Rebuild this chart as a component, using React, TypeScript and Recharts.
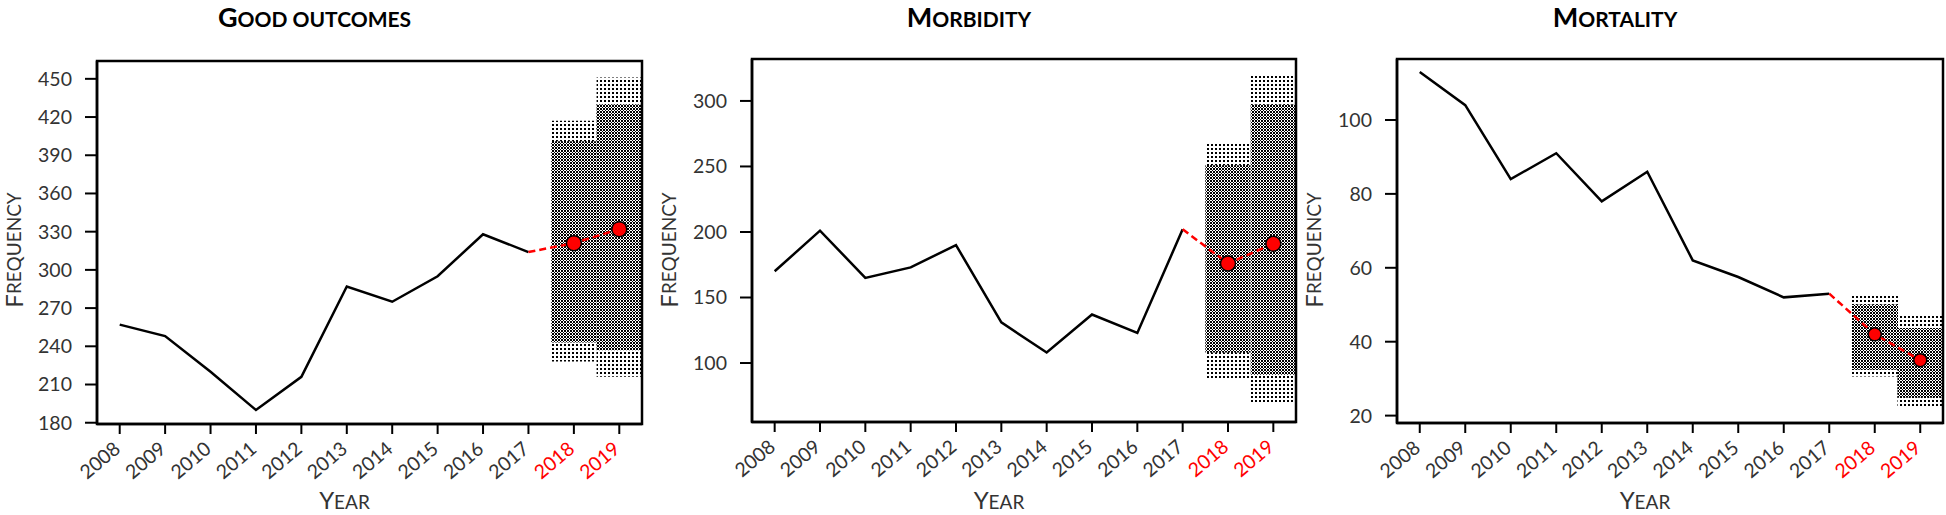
import React from "react";
import { Bar, ComposedChart, Line, XAxis, YAxis } from "recharts";

const YEARS = ["2008", "2009", "2010", "2011", "2012", "2013", "2014", "2015", "2016", "2017", "2018", "2019"];
const FORECAST_YEARS = ["2018", "2019"];

// good outcomes
const goodObserved = [257, 248, 220, 190, 216, 287, 275, 295, 328, 314, null, null];
const goodForecast = [null, null, null, null, null, null, null, null, null, 314, 321, 332];
const goodLow80 = [null, null, null, null, null, null, null, null, null, null, 243, 237];
const goodHigh80 = [null, null, null, null, null, null, null, null, null, null, 401, 430];
const goodLow95 = [null, null, null, null, null, null, null, null, null, null, 228, 216];
const goodHigh95 = [null, null, null, null, null, null, null, null, null, null, 417, 451];
const goodTicks = [180, 210, 240, 270, 300, 330, 360, 390, 420, 450];

// morbidity
const morbObserved = [170, 201, 165, 173, 190, 131, 108, 137, 123, 202, null, null];
const morbForecast = [null, null, null, null, null, null, null, null, null, 202, 176, 191];
const morbLow80 = [null, null, null, null, null, null, null, null, null, null, 108, 91];
const morbHigh80 = [null, null, null, null, null, null, null, null, null, null, 251, 297];
const morbLow95 = [null, null, null, null, null, null, null, null, null, null, 88, 69];
const morbHigh95 = [null, null, null, null, null, null, null, null, null, null, 268, 320];
const morbTicks = [100, 150, 200, 250, 300];

// mortality
const mortObserved = [113, 104, 84, 91, 78, 86, 62, 57.5, 52, 53, null, null];
const mortForecast = [null, null, null, null, null, null, null, null, null, 53, 42, 35];
const mortLow80 = [null, null, null, null, null, null, null, null, null, null, 32.4, 24.8];
const mortHigh80 = [null, null, null, null, null, null, null, null, null, null, 50, 43.7];
const mortLow95 = [null, null, null, null, null, null, null, null, null, null, 30.6, 22.5];
const mortHigh95 = [null, null, null, null, null, null, null, null, null, null, 52.9, 47];
const mortTicks = [20, 40, 60, 80, 100];

const FONT = "Lato, 'Open Sans', sans-serif";
const H = 515;
const AXIS_W = 97;

const panels = [
  {
    id: "good", title: "Good outcomes",
    observed: goodObserved, forecast: goodForecast,
    low80: goodLow80, high80: goodHigh80, low95: goodLow95, high95: goodHigh95,
    ticks: goodTicks, domain: [179, 464],
    plotLeft: 97, plotRight: 642, plotTop: 61, plotBottom: 424, dotR: 7.5,
  },
  {
    id: "morb", title: "Morbidity",
    observed: morbObserved, forecast: morbForecast,
    low80: morbLow80, high80: morbHigh80, low95: morbLow95, high95: morbHigh95,
    ticks: morbTicks, domain: [55, 332],
    plotLeft: 752, plotRight: 1296, plotTop: 59, plotBottom: 422, dotR: 7.5,
  },
  {
    id: "mort", title: "Mortality",
    observed: mortObserved, forecast: mortForecast,
    low80: mortLow80, high80: mortHigh80, low95: mortLow95, high95: mortHigh95,
    ticks: mortTicks, domain: [18, 116.5],
    plotLeft: 1397, plotRight: 1943, plotTop: 59, plotBottom: 423, dotR: 6.5,
  },
];

// upper case letters big, lower case as small capitals
function SmallCaps({ text, big, small }: { text: string; big: number; small: number }) {
  const runs: { s: string; up: boolean }[] = [];
  for (const ch of text) {
    const up = ch !== " " && ch === ch.toUpperCase();
    const last = runs[runs.length - 1];
    if (last && last.up === up) last.s += ch;
    else runs.push({ s: ch, up });
  }
  return (
    <>
      {runs.map((r, i) => (
        <tspan key={i} fontSize={r.up ? big : small}>
          {r.s.toUpperCase()}
        </tspan>
      ))}
    </>
  );
}

const YearTick = (props: any) => {
  const { x, y, payload } = props;
  const red = FORECAST_YEARS.includes(payload.value);
  return (
    <g transform={`translate(${x + 2},${y + 17})`}>
      <text
        x={0}
        y={0}
        textAnchor="end"
        transform="rotate(-40)"
        fontSize={19.5}
        fontFamily={FONT}
        fill={red ? "#ff0000" : "#333"}
      >
        {payload.value}
      </text>
    </g>
  );
};

function Panel({ p }: { p: (typeof panels)[number] }) {
  const plotW = p.plotRight - p.plotLeft;
  const plotH = p.plotBottom - p.plotTop;
  const width = plotW + AXIS_W + 3;
  const left = p.plotLeft - AXIS_W;
  const xH = 60;

  const data = YEARS.map((year, i) => ({
    year,
    observed: p.observed[i],
    forecast: p.forecast[i],
    ci80: p.low80[i] != null ? [p.low80[i], p.high80[i]] : null,
    ci95: p.low95[i] != null ? [p.low95[i], p.high95[i]] : null,
  }));

  const renderDot = (props: any) => {
    const { cx, cy, index } = props;
    if (index < 10 || cx == null || cy == null) return <g key={`d-${index}`} />;
    return <circle key={`d-${index}`} cx={cx} cy={cy} r={p.dotR} fill="#ff0000" stroke="#000" strokeWidth={1.5} />;
  };

  return (
    <div style={{ position: "absolute", left, top: 0, width, height: H }}>
      <ComposedChart
        width={width}
        height={H}
        data={data}
        margin={{ top: p.plotTop, right: 3, left: 0, bottom: H - p.plotBottom - xH }}
        barCategoryGap={0}
        barGap={0}
      >
        <defs>
          <pattern id={`light-${p.id}`} width={4} height={4} patternUnits="userSpaceOnUse">
            <rect width={4} height={4} fill="#fff" />
            <rect width={2} height={2} fill="#000" />
          </pattern>
          <pattern id={`dark-${p.id}`} width={3} height={3} patternUnits="userSpaceOnUse">
            <rect width={3} height={3} fill="#fff" />
            <rect width={2} height={2} fill="#000" />
            <rect x={2} y={2} width={1} height={1} fill="#000" />
          </pattern>
        </defs>
        <XAxis
          xAxisId="main"
          dataKey="year"
          interval={0}
          height={xH}
          tick={<YearTick />}
          tickSize={10}
          tickMargin={0}
          tickLine={{ stroke: "#000", strokeWidth: 2 }}
          axisLine={{ stroke: "#000", strokeWidth: 2.5 }}
        />
        <XAxis xAxisId="over" dataKey="year" hide />
        <YAxis
          width={AXIS_W}
          type="number"
          domain={p.domain}
          ticks={p.ticks}
          interval={0}
          tickSize={12}
          tickMargin={13}
          tick={{ fontSize: 19.5, fill: "#333", fontFamily: FONT }}
          tickLine={{ stroke: "#000", strokeWidth: 2 }}
          axisLine={{ stroke: "#000", strokeWidth: 2.5 }}
        />
        <Bar xAxisId="over" dataKey="ci95" fill={`url(#light-${p.id})`} isAnimationActive={false} />
        <Bar xAxisId="main" dataKey="ci80" fill={`url(#dark-${p.id})`} isAnimationActive={false} />
        <Line
          xAxisId="main"
          dataKey="observed"
          stroke="#000"
          strokeWidth={2.5}
          dot={false}
          activeDot={false}
          isAnimationActive={false}
        />
        <Line
          xAxisId="main"
          dataKey="forecast"
          stroke="#ff0000"
          strokeWidth={2.5}
          strokeDasharray="7 4"
          dot={renderDot}
          activeDot={false}
          isAnimationActive={false}
        />
      </ComposedChart>
      <svg
        width={width}
        height={H}
        style={{ position: "absolute", left: 0, top: 0, pointerEvents: "none" }}
      >
        <rect x={AXIS_W} y={p.plotTop} width={plotW} height={plotH} fill="none" stroke="#000" strokeWidth={2.5} />
        <text x={AXIS_W + plotW / 2 - 55} y={27} textAnchor="middle" fontFamily={FONT} fontWeight="bold" fill="#000">
          <SmallCaps text={p.title} big={27} small={21} />
        </text>
        <text
          transform={`translate(${AXIS_W - 84},250) rotate(-90)`}
          textAnchor="middle"
          dominantBaseline="central"
          fontFamily={FONT}
          fill="#333"
        >
          <SmallCaps text="Frequency" big={24} small={19} />
        </text>
        <text x={AXIS_W + plotW / 2 - 25} y={509} textAnchor="middle" fontFamily={FONT} fill="#333">
          <SmallCaps text="Year" big={24} small={19} />
        </text>
      </svg>
    </div>
  );
}

export default function App() {
  return (
    <div style={{ position: "absolute", left: 0, top: 0, width: 1946, height: H, background: "#fff" }}>
      {panels.map((p) => (
        <Panel key={p.id} p={p} />
      ))}
    </div>
  );
}
